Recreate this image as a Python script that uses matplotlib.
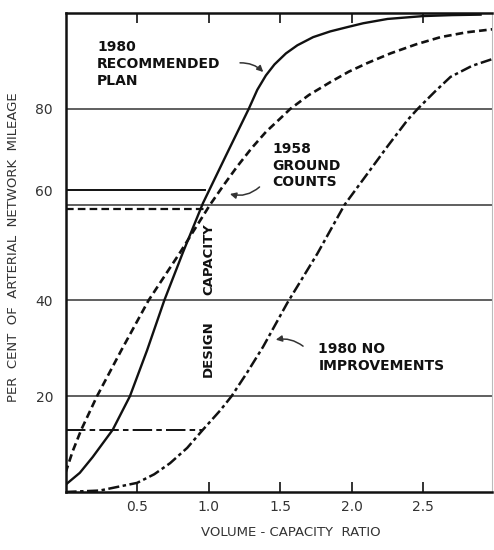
import matplotlib
matplotlib.use("Agg")
from matplotlib import pyplot as plt

# 1980 recommended plan (solid)
rec_x = [0, 0.1, 0.19, 0.33, 0.45, 0.57, 0.69, 0.82, 0.96, 1.12, 1.28, 1.34, 1.40, 1.46,
         1.54, 1.62, 1.73, 1.85, 1.97, 2.08, 2.25, 2.5, 2.7, 2.9]
rec_y = [1.5, 4, 7.3, 13, 20, 29.6, 40, 50, 60.3, 70.2, 80, 84, 87, 89.3,
         91.6, 93.3, 95, 96.2, 97.1, 97.9, 98.8, 99.4, 99.6, 99.7]

# 1958 ground counts (dashed)
gc_x = [0, 0.05, 0.11, 0.22, 0.39, 0.58, 0.8, 1.01, 1.11, 1.2, 1.3, 1.4, 1.5, 1.57,
        1.7, 1.85, 1.98, 2.11, 2.27, 2.45, 2.62, 2.8, 3.0]
gc_y = [4, 8.5, 13, 20, 29.6, 40, 50, 60, 64.3, 68, 71.8, 75.2, 78, 80,
        82.9, 85.6, 87.8, 89.6, 91.6, 93.5, 95, 96, 96.7]

# 1980 no improvements (dash-dot)
ni_x = [0, 0.24, 0.5, 0.62, 0.73, 0.85, 0.96, 1.08, 1.16, 1.27, 1.38, 1.55, 1.76, 1.95,
        2.11, 2.25, 2.39, 2.46, 2.58, 2.69, 2.84, 3.0]
ni_y = [0, 0.3, 1.9, 3.7, 6, 9.2, 13, 17, 20, 25, 30.3, 39.5, 49.8, 60,
        66.5, 72.2, 77.7, 80, 83.6, 86.7, 89, 90.6]

# share of mileage at design capacity (v/c = 1.0)
capacity_vc = 1.0
cap_rec, cap_gc, cap_ni = 63, 59, 13

grid_levels = [20, 40, 60, 80]
ytick_pos = [20, 40, cap_rec, 80]
ytick_labels = ["20", "40", "60", "80"]
xticks = [0.5, 1.0, 1.5, 2.0, 2.5]
xtick_labels = ["0.5", "1.0", "1.5", "2.0", "2.5"]

plt.rcParams["lines.scale_dashes"] = False
plt.rcParams["font.family"] = "DejaVu Sans"

fig = plt.figure(figsize=(4.94, 5.5), dpi=100)
ax = fig.add_axes([0.1326, 0.1055, 0.996 - 0.1326, 0.976 - 0.1055])
ax.set_xlim(0, 2.98)
ax.set_ylim(0, 100)

for g in grid_levels:
    ax.axhline(g, color="#444444", lw=1.2, zorder=1)

ink = "#111111"
dash = (5.5, 3)
dashdot = (8, 2.5, 2.5, 2.5)

ax.plot(rec_x, rec_y, color=ink, lw=1.7, zorder=3)
ax.plot(gc_x, gc_y, color=ink, lw=1.9, dashes=dash, zorder=3)
ax.plot(ni_x, ni_y, color=ink, lw=1.8, dashes=dashdot, zorder=3)

# short lines out to design capacity
ax.plot([0, capacity_vc * 0.975], [cap_rec, cap_rec], color=ink, lw=1.4, zorder=2)
ax.plot([0, capacity_vc * 0.98], [cap_gc, cap_gc], color=ink, lw=1.6, dashes=dash, zorder=2)
ax.plot([0, capacity_vc * 0.96], [cap_ni, cap_ni], color=ink, lw=1.4, dashes=(14, 3, 4, 3), zorder=2)

ax.set_xticks(xticks)
ax.set_xticklabels(xtick_labels)
ax.set_yticks(ytick_pos)
ax.set_yticklabels(ytick_labels)
ax.tick_params(axis="x", direction="in", length=7, width=1.2, top=True, pad=6,
               labelsize=10, colors=ink, labelcolor="#333333")
ax.tick_params(axis="y", length=0, pad=9, labelsize=10, labelcolor="#333333")

for side in ["left", "top", "bottom"]:
    ax.spines[side].set_linewidth(1.8)
    ax.spines[side].set_color(ink)
ax.spines["right"].set_linewidth(0.8)
ax.spines["right"].set_color("#bbbbbb")

lab = dict(fontsize=10, fontweight="bold", color=ink, ha="left", va="top", linespacing=1.25)
ax.text(0.22, 94.4, "1980\nRECOMMENDED\nPLAN", **lab)
ax.text(1.444, 73.1, "1958\nGROUND\nCOUNTS", **lab)
ax.text(1.766, 31.3, "1980 NO\nIMPROVEMENTS", **lab)

arrow = dict(arrowstyle="-|>", color="#333333", lw=1.1, mutation_scale=9)
ax.annotate("", xy=(1.395, 87.3), xytext=(1.20, 89.6),
            arrowprops=dict(connectionstyle="arc3,rad=-0.25", **arrow))
ax.annotate("", xy=(1.13, 62.4), xytext=(1.37, 64.1),
            arrowprops=dict(connectionstyle="arc3,rad=-0.3", **arrow))
ax.annotate("", xy=(1.45, 31.7), xytext=(1.675, 30.1),
            arrowprops=dict(connectionstyle="arc3,rad=0.25", **arrow))

ax.text(capacity_vc, 29.9, "DESIGN", rotation=90, fontsize=9.5, fontweight="bold",
        color=ink, ha="center", va="center")
ax.text(capacity_vc, 48.6, "CAPACITY", rotation=90, fontsize=9.5, fontweight="bold",
        color=ink, ha="center", va="center")

fig.text(14 / 494, 1 - 247 / 550, "PER  CENT  OF  ARTERIAL  NETWORK  MILEAGE",
         rotation=90, fontsize=9.5, color="#333333", ha="center", va="center")
fig.text(291 / 494, 1 - 533 / 550, "VOLUME - CAPACITY  RATIO",
         fontsize=9.5, color="#333333", ha="center", va="center")

fig.savefig("out.png", dpi=100)
plt.close(fig)
